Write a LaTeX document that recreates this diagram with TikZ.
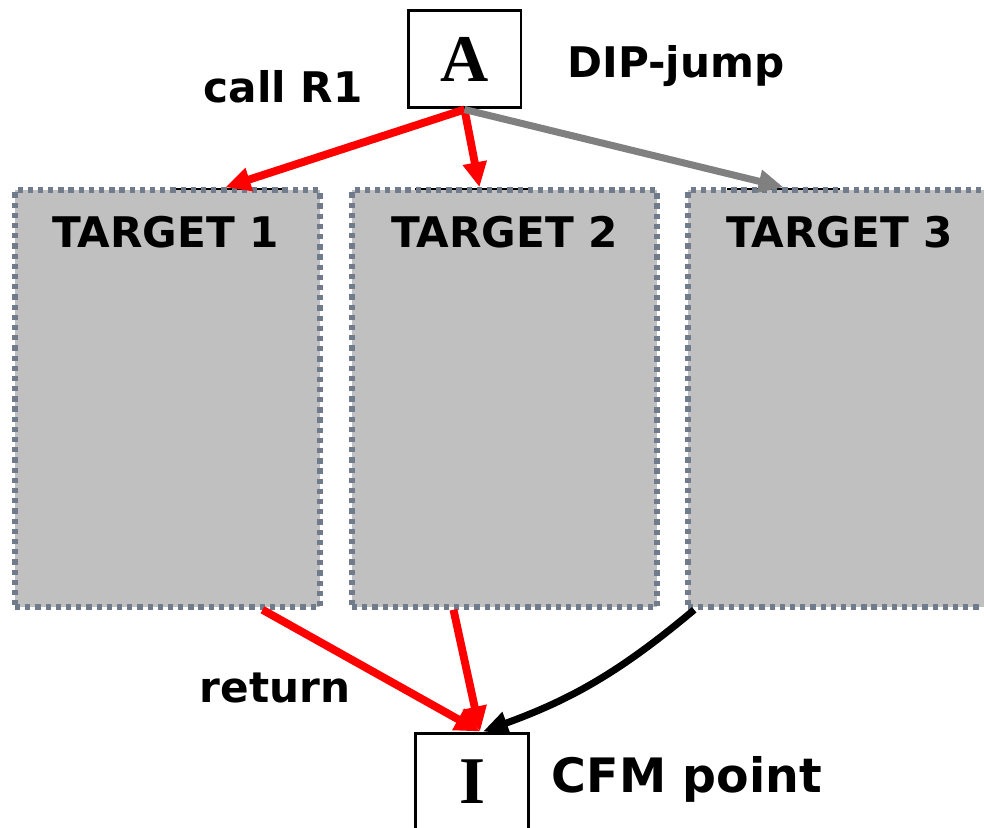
\documentclass[tikz,border=0pt]{standalone}
\usepackage{fontspec}
\setmainfont{DejaVu Sans}
\newfontfamily\letterfont{Liberation Serif}
\usetikzlibrary{arrows.meta}
\usetikzlibrary{positioning}
\usetikzlibrary{calc}
\definecolor{boxgray}{RGB}{192,192,192}
\definecolor{dotgray}{RGB}{112,124,140}
\tikzset{
    target/.style={rectangle, fill=boxgray, draw=dotgray, line width=3.2pt,
        dash pattern=on 3pt off 2.8pt, minimum width=6.1cm, minimum height=8.34cm, inner sep=0pt},
    block/.style={rectangle, draw=black, line width=1.7pt, fill=white,
        minimum width=2.26cm, minimum height=1.96cm, inner sep=0pt,
        font=\letterfont\bfseries\fontsize{38}{38}\selectfont},
    lbl/.style={anchor=base, font=\bfseries\fontsize{24}{28}\selectfont},
    hidden/.style={draw=black, line width=1.5pt},
    callarrow/.style={draw=red, line width=4.5pt, -{Triangle[length=0.5cm,width=0.46cm]}},
    skiparrow/.style={draw=gray, line width=4pt, -{Triangle[length=0.5cm,width=0.44cm]}},
    joinarrow/.style={draw=black, line width=4pt, -{Triangle[length=0.5cm,width=0.44cm]}},
}
\begin{document}
\begin{tikzpicture}[x=0.02cm, y=-0.02cm]
	\useasboundingbox (0,0) rectangle (984,828);
	% edges of the boxes hidden behind the targets
	\draw[hidden] (175,189)--(288,189);
	\draw[hidden] (415,189)--(528,189);
	\draw[hidden] (727,189)--(840,189);
	% targets
	\node[target] (t1) at (167.5,398.5) {};
	\node[target] (t2) at (504.5,398.5) {};
	\node[target] (t3) at (840.5,398.5) {};
	\node[lbl] (t1lbl) at ($(t1.north)+(-2,60)$) {TARGET 1};
	\node[lbl] (t2lbl) at ($(t2.north)+(0,60)$) {TARGET 2};
	\node[lbl] (t3lbl) at ($(t3.north)+(-1,60)$) {TARGET 3};
	% jump and merge points
	\node[block] (a) at (464.5,59) {A};
	\node[block] (i) at (472,782) {I};
	\node[lbl] (dip) at (676,78) {DIP-jump};
	\node[lbl] (call) at (283,103) {call R1};
	\node[lbl] (ret) at (275,702) {return};
	\node[lbl, font=\bfseries\fontsize{27}{30}\selectfont] (cfm) at (687,792) {CFM point};
	% connectors
	\draw[callarrow] (a.south)--($(t1.north)+(58,0)$);
	\draw[callarrow] (a.south)--($(t2.north)+(-25,0)$);
	\draw[skiparrow] (a.south)--($(t3.north)+(-57,0)$);
	\draw[callarrow] ($(t1.south)+(95,0)$)--($(i.north)+(8,0)$);
	\draw[callarrow] ($(t2.south)+(-51,0)$)--($(i.north)+(8,0)$);
	\draw[joinarrow] ($(t3.south west)+(9,0)$) to[bend left=10] ($(i.north)+(11,0)$);
\end{tikzpicture}
\end{document}
